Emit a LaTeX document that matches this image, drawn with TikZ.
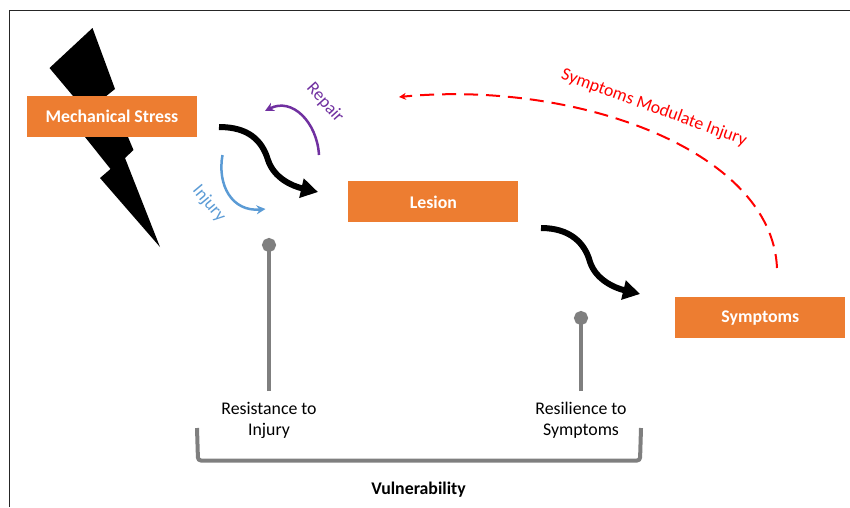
\documentclass[tikz,border=0pt]{standalone}
\usepackage{fontspec}
\setmainfont{Carlito}
\usetikzlibrary{arrows.meta,positioning}
\definecolor{boxorange}{HTML}{ED7D31}
\definecolor{injblue}{HTML}{5B9BD5}
\definecolor{reppurple}{HTML}{7030A0}
\definecolor{pingray}{HTML}{7F7F7F}
\tikzset{
  box/.style={rectangle, fill=boxorange, text=white, font=\fontsize{17.8}{18}\selectfont\bfseries, minimum width=170pt, minimum height=41pt, inner sep=0pt},
  tag/.style={align=center, font=\fontsize{17.8}{21}\selectfont},
  bigarrow/.style={line width=6pt, -{Triangle[length=17pt,width=19pt]}},
  pin/.style={draw=pingray, line width=4pt, -{Circle[length=14pt,width=14pt]}}
}
\begin{document}
\begin{tikzpicture}[x=1pt,y=-1pt]
\useasboundingbox (0,0) rectangle (850,507);
\draw[line width=1.3pt, color=black!85] (9.5,507) -- (9.5,10.5) -- (850,10.5);
\fill (92.5,28) -- (115,89) -- (105,97) -- (128,137) -- (133.5,150) -- (125,158) -- (160,247) -- (100,178) -- (110.5,169) -- (85,137) -- (73,96) -- (49.5,68) -- cycle;
\node[box] (stress) at (112,116.5) {Mechanical Stress};
\node[box, below right=44pt and 151pt of stress] (lesion) {Lesion};
\node[box, below right=75pt and 157pt of lesion, xshift=-0.5pt, yshift=0.5pt] (symptoms) {Symptoms};
\node[tag] (resistance) at (269,420.5) {Resistance to\\Injury};
\node[tag] (resilience) at (581,420.5) {Resilience to\\Symptoms};
\node[font=\fontsize{17.8}{18}\selectfont\bfseries] (vuln) at (418.5,490) {Vulnerability};
\node[tag, text=injblue, rotate=-50] (injury) at (209,204) {Injury};
\node[tag, text=reppurple, rotate=-48] (repair) at (325,103) {Repair};
\node[tag, text=red, rotate=-20] (modulate) at (654,108) {Symptoms Modulate Injury};
\coordinate (a1) at (219,127);
\coordinate (a2) at (318,192);
\coordinate (b1) at (541,228);
\coordinate (b2) at (640,294);
\coordinate (i1) at (222.5,155);
\coordinate (i2) at (265.5,209);
\coordinate (r1) at (319,155);
\coordinate (r2) at (265,111);
\coordinate (m1) at (777,268);
\coordinate (m2) at (399,97);
\coordinate (p1) at (269,238);
\coordinate (p2) at (581,311);
\coordinate (q1) at (269,391);
\coordinate (q2) at (581,391);
\draw[bigarrow] (a1) .. controls (248,127) and (262,140) .. (268,160) .. controls (274,178) and (292,186) .. (a2);
\draw[bigarrow] (b1) .. controls (570,228) and (585,243) .. (590,262) .. controls (596,280) and (615,288) .. (b2);
\draw[color=injblue, line width=2.5pt, -{Stealth[length=9pt,width=9pt]}] (i1) .. controls (217,185) and (232,212) .. (i2);
\draw[color=reppurple, line width=2.5pt, -{Stealth[length=9pt,width=9pt]}] (r1) .. controls (317,122) and (292,97) .. (r2);
\draw[color=red, line width=2pt, dash pattern=on 14pt off 8pt, -{Stealth[length=7pt,width=7pt]}] (m1) .. controls (772,150) and (575,80) .. (m2);
\draw[pin] (q1) -- (p1);
\draw[pin] (q2) -- (p2);
\draw[color=pingray, line width=4pt, rounded corners=3pt] (197,428) -- (198,460.5) -- (640,460.5) -- (641,428);
\end{tikzpicture}
\end{document}
